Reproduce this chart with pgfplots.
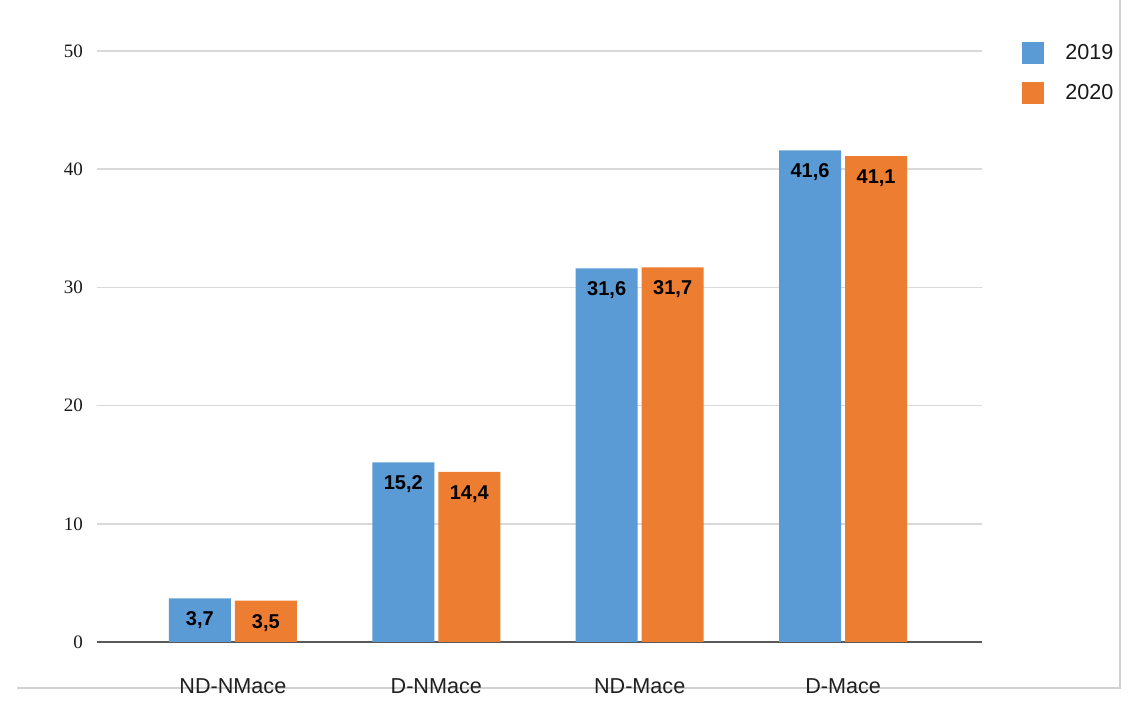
\documentclass[border=0pt]{standalone}
\usepackage{pgfplots}
\pgfplotsset{compat=1.18}
\usepackage{fontspec}
\setmainfont{Liberation Sans}
\newfontfamily\serif{Liberation Serif}
\definecolor{cblue}{HTML}{5B9BD5}
\definecolor{corange}{HTML}{ED7D31}
\begin{document}
\begin{tikzpicture}
\useasboundingbox (0,0) rectangle (572.5pt,350.5pt);
\draw[color=black!18, line width=0.6pt] (8.5pt,6.5pt) -- (560pt,6.5pt) -- (560pt,350.5pt);
\begin{axis}[
  at={(48.5pt,29.5pt)}, anchor=south west,
  scale only axis, width=442.5pt, height=295.5pt,
  xmin=-0.668, xmax=3.683, ymin=0, ymax=50,
  ybar=2pt, bar width=31pt,
  axis lines*=left,
  y axis line style={draw=none},
  x axis line style={draw=black!65, line width=0.9pt},
  major tick length=0pt,
  ytick={0,10,...,50},
  ymajorgrids, grid style={draw=black!15, line width=0.8pt},
  xtick={0,1,2,3},
  xticklabels={ND-NMace,D-NMace,ND-Mace,D-Mace},
  xticklabel style={anchor=center, yshift=-22pt, font=\fontsize{10.8pt}{12pt}\selectfont, text=black!88},
  yticklabel style={anchor=east, xshift=-3.5pt, font=\serif\fontsize{9.5pt}{10pt}\selectfont, text=black!90},
  /pgf/number format/assume math mode=true,
  nodes near coords={\pgfmathprintnumber[use comma,fixed,fixed zerofill,precision=1,assume math mode=true]{\pgfplotspointmeta}},
  nodes near coords style={anchor=center, yshift=-11pt, font=\bfseries\fontsize{10pt}{11pt}\selectfont, text=black},
  legend style={draw=none, fill=none, at={(axis cs:3.683,50)}, xshift=20pt, yshift=4.5pt, anchor=north west,
    inner sep=0pt, row sep=9pt, cells={anchor=west},
    nodes={inner sep=0pt, font=\fontsize{10.8pt}{12pt}\selectfont, text=black!90},
    /tikz/every odd column/.style={column sep=10.5pt}},
  legend image code/.code={\fill[#1] (0pt,-5.5pt) rectangle (11pt,5.5pt);},
  clip=false,
]
\addplot[fill=cblue, draw=none] coordinates {(0,3.7) (1,15.2) (2,31.6) (3,41.6)};
\addplot[fill=corange, draw=none] coordinates {(0,3.5) (1,14.4) (2,31.7) (3,41.1)};
\legend{2019,2020}
\end{axis}
\end{tikzpicture}
\end{document}
